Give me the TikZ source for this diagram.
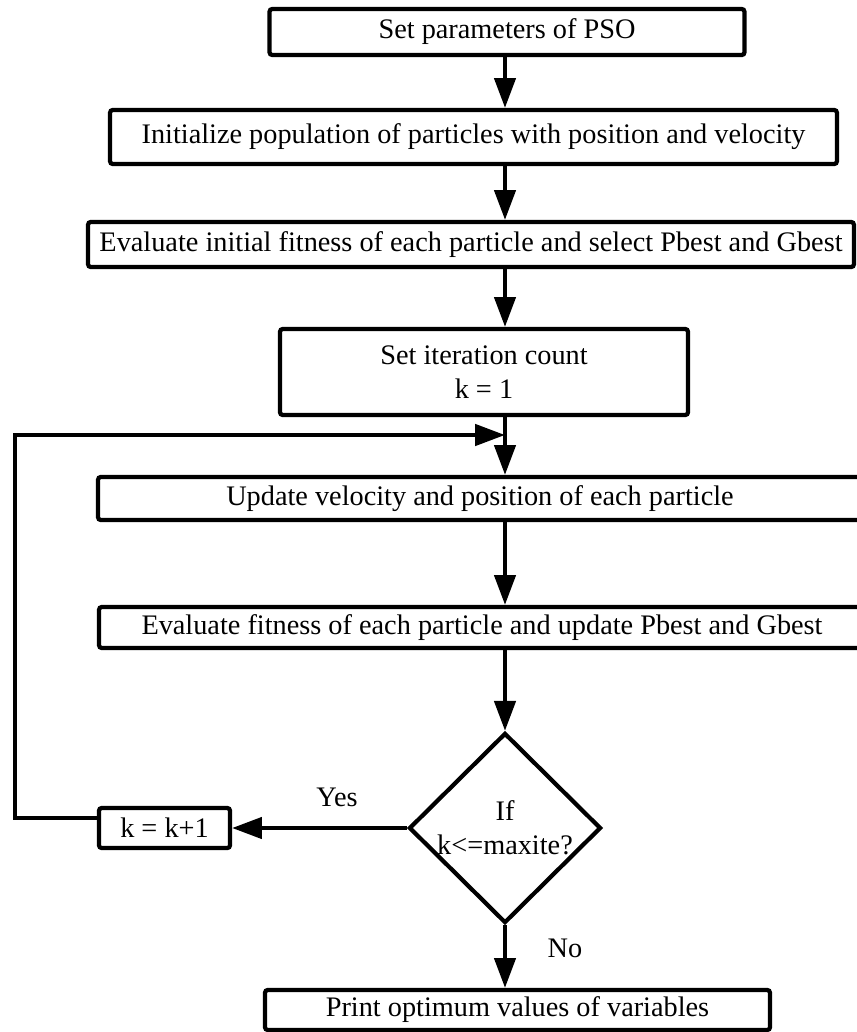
\documentclass[tikz,border=0pt]{standalone}
\usepackage{fontspec}
\setmainfont{Liberation Serif}
\usetikzlibrary{arrows.meta,shapes.geometric,calc}

\begin{document}
\begin{tikzpicture}[x=0.02cm,y=-0.02cm,>={Triangle[length=17pt,width=12pt]},
  pb/.style={draw,line width=2.4pt,rounded corners=1.5pt,inner sep=0pt,align=center,font=\fontsize{16.1}{19.5}\selectfont},
  dc/.style={draw,diamond,line width=2.4pt,inner sep=0pt,align=center,minimum width=3.84cm,minimum height=3.8cm,font=\fontsize{16.1}{19.5}\selectfont},
  lab/.style={font=\fontsize{16.1}{19.5}\selectfont},
  ln/.style={line width=2.4pt}]
\clip (0,0) rectangle (857,1032);
\coordinate (spine) at (505,0);
\node[pb,minimum width=9.5cm,minimum height=0.92cm] (par) at (507,32) {Set parameters of PSO};
\node[pb,minimum width=14.54cm,minimum height=1.08cm] (init) at (473.5,137) {Initialize population of particles with position and velocity};
\node[pb,minimum width=15.32cm,minimum height=0.9cm] (eval0) at (471,244.5) {Evaluate initial fitness of each particle and select Pbest and Gbest};
\node[pb,minimum width=8.16cm,minimum height=1.72cm] (iter) at (484,372) {Set iteration count\\k = 1};
\node[pb,minimum width=15.28cm,minimum height=0.86cm] (upd) at (480,498.5) {Update velocity and position of each particle};
\node[pb,minimum width=15.32cm,minimum height=0.82cm] (evalf) at (482,627.5) {Evaluate fitness of each particle and update Pbest and Gbest};
\node[dc] (dec) at (505,828) {If\\k<=maxite?};
\node[pb,minimum width=2.62cm,minimum height=0.8cm] (kinc) at (164.5,828) {k = k+1};
\node[pb,minimum width=10.1cm,minimum height=0.8cm] (out) at (517.5,1010) {Print optimum values of variables};
\coordinate (join) at (505,435);
\coordinate (back) at (15,435);
% main chain
\draw[->,ln] (par.south -| spine) -- (init.north -| spine);
\draw[->,ln] (init.south -| spine) -- (eval0.north -| spine);
\draw[->,ln] (eval0.south -| spine) -- (iter.north -| spine);
\draw[->,ln] (iter.south -| spine) -- (upd.north -| spine);
\draw[->,ln] (upd.south -| spine) -- (evalf.north -| spine);
\draw[->,ln] (evalf.south -| spine) -- (dec.north);
\draw[->,ln] (dec.west) -- (kinc.east);
\draw[->,ln] (dec.south) -- (out.north -| spine);
% loop back
\draw[->,ln] ($(kinc.west)+(0,-10)$) -| (back) -- (join);
\node[lab] (yes) at (337,797) {Yes};
\node[lab] (no) at (565,948) {No};
\end{tikzpicture}
\end{document}
